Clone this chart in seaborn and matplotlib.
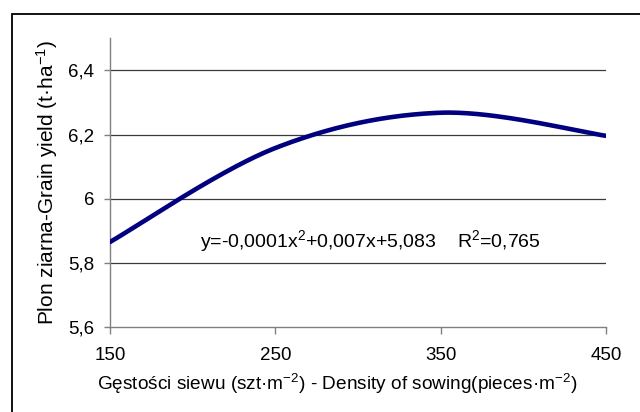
import numpy as np
import pandas as pd
import matplotlib
matplotlib.use("Agg")
import matplotlib.pyplot as plt
import seaborn as sns
from matplotlib.patches import Rectangle

# ---- data ----
density = [150, 250, 350, 450]
grain_yield = [5.865, 6.158, 6.268, 6.196]
x_ticks = [150, 250, 350, 450]
x_tick_labels = ["150", "250", "350", "450"]
y_ticks = [5.6, 5.8, 6.0, 6.2, 6.4]
y_tick_labels = ["5,6", "5,8", "6", "6,2", "6,4"]
equation = "y=-0,0001x$^2$+0,007x+5,083    R$^2$=0,765"


def excel_smooth(xs, ys, n=60):
    """Spreadsheet-style smoothed line: cubic Bezier segments through the points."""
    P = np.column_stack([xs, ys]).astype(float)
    m = len(P)
    out = []
    for i in range(m - 1):
        p0 = P[i - 1] if i > 0 else P[i]
        p1, p2 = P[i], P[i + 1]
        p3 = P[i + 2] if i + 2 < m else P[i + 1]
        b1 = p1 + (p2 - p0) / 6.0
        b2 = p2 - (p3 - p1) / 6.0
        t = np.linspace(0, 1, n, endpoint=(i == m - 2))[:, None]
        seg = ((1 - t) ** 3) * p1 + 3 * ((1 - t) ** 2) * t * b1 \
            + 3 * (1 - t) * t ** 2 * b2 + t ** 3 * p2
        out.append(seg)
    out = np.vstack(out)
    return out[:, 0], out[:, 1]


sx, sy = excel_smooth(density, grain_yield)
df = pd.DataFrame({"density": sx, "yield": sy})

sns.set_theme(style="white")
plt.rcParams["font.family"] = ["Liberation Sans", "DejaVu Sans"]
plt.rcParams["mathtext.default"] = "regular"

fig = plt.figure(figsize=(6.4, 4.12), dpi=100)
ax = fig.add_axes([110 / 640, 1 - 327 / 412, (606 - 110) / 640, (327 - 38.3) / 412])

for yv in y_ticks[1:]:
    ax.axhline(yv, color="#3a3a3a", lw=0.9, zorder=1)

sns.lineplot(data=df, x="density", y="yield", ax=ax, color="#000080",
             lw=3.3, sort=False, zorder=3)

ax.set_xlim(150, 450)
ax.set_ylim(5.6, 6.5)
ax.set_xticks(x_ticks)
ax.set_xticklabels(x_tick_labels)
ax.set_yticks(y_ticks)
ax.set_yticklabels(y_tick_labels)

for s in ["top", "right"]:
    ax.spines[s].set_visible(False)
for s in ["left", "bottom"]:
    ax.spines[s].set_color("#808080")
    ax.spines[s].set_linewidth(1.0)

ax.tick_params(axis="x", direction="out", length=5, width=1, color="#808080",
               labelsize=13.5, pad=9.5, labelcolor="black")
ax.tick_params(axis="y", direction="out", length=4, width=1, color="#808080",
               labelsize=13.5, pad=7.5, labelcolor="black")
ax.tick_params(bottom=True, left=True)

ax.set_xlabel("Gęstości siewu (szt·m$^{-2}$) - Density of sowing(pieces·m$^{-2}$)",
              fontsize=13.7, labelpad=7, color="black")
ax.set_ylabel("Plon ziarna-Grain yield (t·ha$^{-1}$)", fontsize=15,
              labelpad=5.5, color="black")
ax.xaxis.set_label_coords((337 - 110) / 496, -0.155)

ax.text(200 / 640, 1 - 241 / 412, equation, transform=fig.transFigure,
        fontsize=14, ha="left", va="center", color="black")

fig.patches.append(Rectangle((12 / 640, -0.1), 1.2, 1.1 - 14 / 412,
                             transform=fig.transFigure, fill=False,
                             edgecolor="black", lw=1.3, clip_on=False))

fig.savefig("out.png", dpi=100)
